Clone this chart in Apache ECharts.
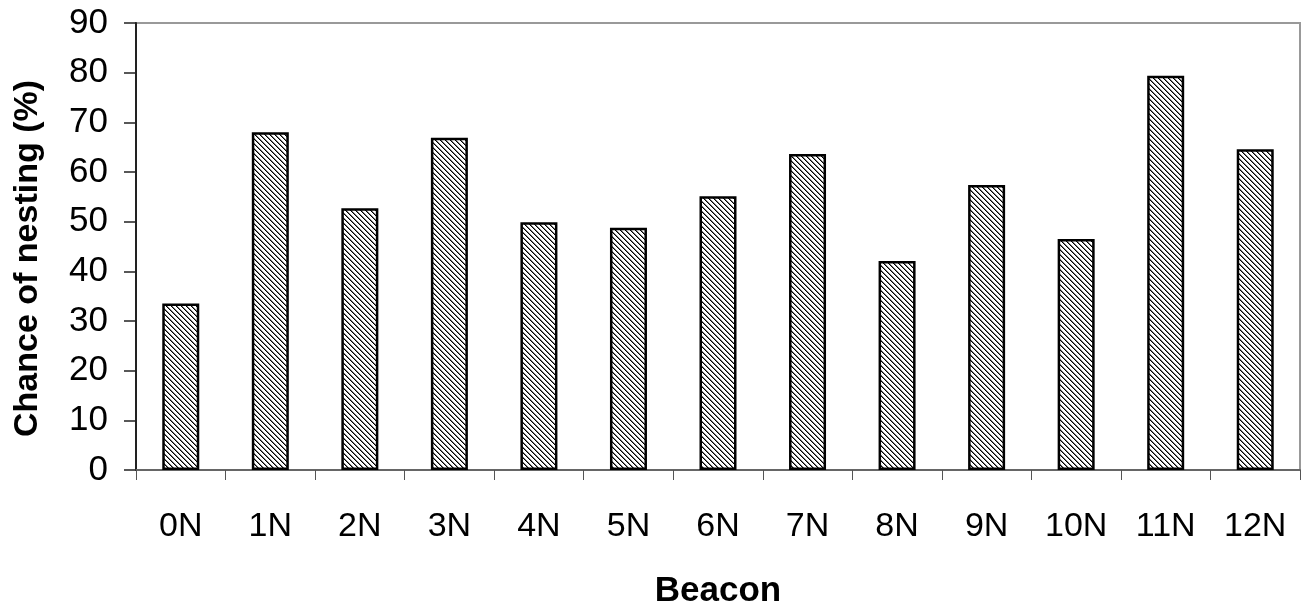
<!DOCTYPE html>
<html>
<head>
<meta charset="utf-8">
<script src="https://cdn.jsdelivr.net/npm/echarts@6/dist/echarts.min.js"></script>
<style>
  html, body { margin: 0; padding: 0; background: #fff; }
  #chart { width: 1307px; height: 605px; }
</style>
</head>
<body>
<div id="chart"></div>
<script>
const beacons = ['0N', '1N', '2N', '3N', '4N', '5N', '6N', '7N', '8N', '9N', '10N', '11N', '12N'];
const nestingChance = [33.5, 68, 52.7, 66.9, 49.9, 48.8, 55.1, 63.6, 42.1, 57.4, 46.5, 79.4, 64.6];
const yTicks = [0, 10, 20, 30, 40, 50, 60, 70, 80, 90];

function hatchPattern() {
  const size = 5;
  const cv = document.createElement('canvas');
  cv.width = size;
  cv.height = size;
  const ctx = cv.getContext('2d');
  ctx.fillStyle = '#fff';
  ctx.fillRect(0, 0, size, size);
  for (let i = 0; i < size; i++) {
    ctx.fillStyle = '#000';
    ctx.fillRect(i, i, 1, 1);
    ctx.fillStyle = '#777';
    ctx.fillRect((i + 1) % size, i, 1, 1);
  }
  return cv;
}

const chart = echarts.init(document.getElementById('chart'));

const font = 'Liberation Sans, Arial, sans-serif';

chart.setOption({
  animation: false,
  backgroundColor: '#fff',
  grid: {
    left: 136,
    right: 7,
    top: 23,
    bottom: 135,
    outerBoundsMode: 'none',
    containLabel: false,
    show: true,
    borderColor: '#999',
    borderWidth: 2,
    backgroundColor: 'transparent'
  },
  xAxis: {
    type: 'category',
    data: beacons,
    name: 'Beacon',
    nameLocation: 'middle',
    nameGap: 104,
    nameTextStyle: { fontFamily: font, fontSize: 35, fontWeight: 'bold', color: '#000' },
    axisLine: { lineStyle: { color: '#666', width: 2 } },
    axisTick: { show: true, length: 10, lineStyle: { color: '#555', width: 1 } },
    axisLabel: { fontFamily: font, fontSize: 34, color: '#000', margin: 40 }
  },
  yAxis: {
    type: 'value',
    min: yTicks[0],
    max: yTicks[yTicks.length - 1],
    interval: 10,
    name: 'Chance of nesting (%)',
    nameLocation: 'middle',
    nameGap: 91,
    nameTextStyle: { fontFamily: font, fontSize: 34, fontWeight: 'bold', color: '#000', padding: [0, 24, 0, 0] },
    axisLine: { show: true, lineStyle: { color: '#222', width: 2 } },
    axisTick: { show: true, inside: false, length: 12, lineStyle: { color: '#222', width: 1.5 } },
    axisLabel: { fontFamily: font, fontSize: 35, color: '#000', margin: 28 },
    splitLine: { show: false }
  },
  series: [{
    type: 'bar',
    data: nestingChance,
    barWidth: 37,
    itemStyle: {
      color: { image: hatchPattern(), repeat: 'repeat' },
      borderColor: '#000',
      borderWidth: 2.5
    }
  }]
});

window.addEventListener('resize', function () {
  chart.resize();
});
</script>
</body>
</html>
